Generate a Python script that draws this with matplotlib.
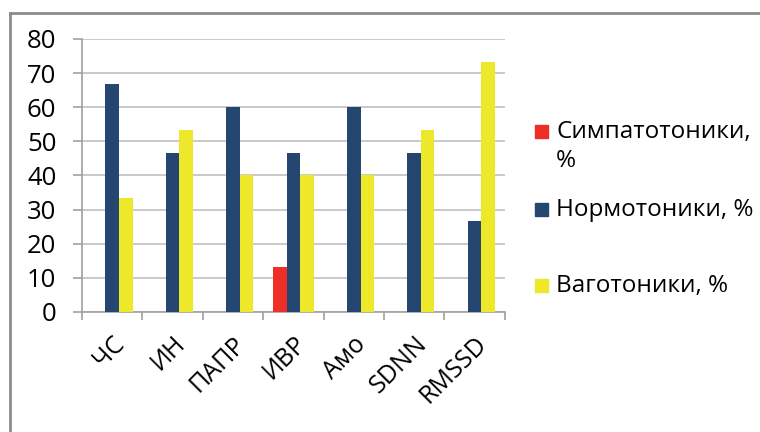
import matplotlib
matplotlib.use("Agg")
import matplotlib.pyplot as plt
import numpy as np
from matplotlib.lines import Line2D
from matplotlib.patches import Rectangle

plt.rcParams['font.family'] = ['Open Sans', 'DejaVu Sans']

# data
categories = ['ЧС', 'ИН', 'ПАПР', 'ИВР', 'Амо', 'SDNN', 'RMSSD']
sympat = [0, 0, 0, 13.3, 0, 0, 0]
normo = [66.7, 46.7, 60, 46.7, 60, 46.7, 26.7]
vago = [33.3, 53.3, 40, 40, 40, 53.3, 73.3]
series_names = ['Симпатотоники,\n%', 'Нормотоники, %', 'Ваготоники, %']
colors = ['#EE2F28', '#254670', '#EDE829']

fig = plt.figure(figsize=(7.6, 4.32), dpi=100)
ax = fig.add_axes([0.108, 0.278, 0.556, 0.632])

x = np.arange(len(categories))
w = 0.225
for i, vals in enumerate([sympat, normo, vago]):
    ax.bar(x + (i - 1) * w, vals, width=w, color=colors[i], zorder=3)

ax.set_xlim(-0.5, len(categories) - 0.5)
ax.set_ylim(0, 80)
ax.set_yticks(np.arange(0, 81, 10))
ax.yaxis.grid(True, color='#c0c0c0', linewidth=1.2, zorder=0)

# category boundaries carry the ticks, labels sit at centres
ax.set_xticks(np.arange(-0.5, len(categories), 1))
ax.set_xticklabels([])
ax.set_xticks(x, minor=True)
ax.set_xticklabels(categories, minor=True, rotation=45, ha='right',
                   rotation_mode='anchor', fontsize=18)
ax.tick_params(axis='x', which='minor', length=0, pad=14)
ax.tick_params(axis='x', which='major', length=6, color='#a0a0a0', width=1.2)
ax.tick_params(axis='y', length=6.5, color='#a0a0a0', width=1.2, labelsize=18.5, pad=12)

for s in ['top', 'right']:
    ax.spines[s].set_visible(False)
for s in ['left', 'bottom']:
    ax.spines[s].set_color('#a0a0a0')
    ax.spines[s].set_linewidth(1.2)

# legend drawn by hand (marker lines up with first text line)
leg_y = [131, 209, 285]
for i, name in enumerate(series_names):
    yf = 1 - leg_y[i] / 432
    fig.add_artist(Rectangle((535 / 760, yf - 6.5 / 432), 13 / 760, 13 / 432,
                             transform=fig.transFigure, color=colors[i]))
    fig.text(556 / 760, yf + 11 / 432, name, fontsize=17.5, va='top', ha='left',
             linespacing=1.3)

# outer frame (right and bottom edges are cut off in the reference)
fig.add_artist(Line2D([10 / 760, 1], [1 - 13 / 432] * 2, color='#8c8c8c', lw=2,
                      transform=fig.transFigure))
fig.add_artist(Line2D([10 / 760] * 2, [1 - 13 / 432, 0], color='#8c8c8c', lw=2,
                      transform=fig.transFigure))

fig.savefig('out.png', dpi=100)
